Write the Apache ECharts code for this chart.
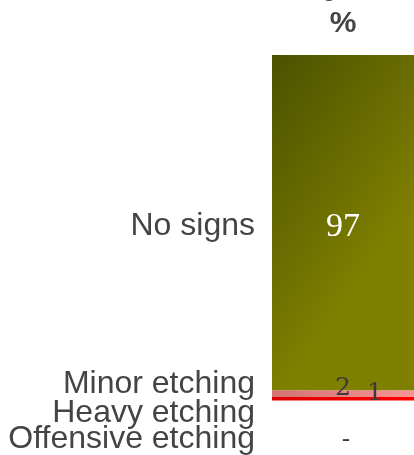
<!DOCTYPE html>
<html>
<head>
<meta charset="utf-8">
<script src="https://cdn.jsdelivr.net/npm/echarts@6/dist/echarts.min.js"></script>
<style>
  html, body { margin: 0; padding: 0; background: #ffffff; }
  #chart { width: 414px; height: 455px; }
</style>
</head>
<body>
<div id="chart"></div>
<script>
// Share of surveyed items by etching severity, one stacked column
const categories = ['No signs', 'Minor etching', 'Heavy etching', 'Offensive etching'];
const shares = [97, 2, 1, 0];
const valueLabels = ['97', '2', '1', '-'];
const columns = ['%'];
const headerWord = 'Signs';

const SANS = 'Liberation Sans, Arial, sans-serif';
const TEXT = '#444444';

function grad(x2, y2, stops) {
  return new echarts.graphic.LinearGradient(0, 0, x2, y2,
    stops.map((c, i) => ({ offset: i / (stops.length - 1), color: c })));
}
const fills = [
  grad(1.2, 0.36, ['#4a5200', '#808000']),
  grad(1, 0, ['#d27474', '#f89494']),
  grad(1, 0, ['#dc0000', '#ff0000']),
  grad(1, 0, ['#dc0000', '#ff0000'])
];
// the small segments are too thin for their names, so the names are spread apart
const nameShift = [4, -9, 14, 39];
// per-segment placement and type of the printed values
const valueOffsets = [[0, 5], [0, -5], [32, -5], [3, 40]];
const valueFonts = [
  { fontFamily: 'Liberation Serif, serif', fontSize: 34, color: '#ffffff' },
  { fontFamily: 'DejaVu Serif, serif', fontSize: 25, color: '#3a3a3a' },
  { fontFamily: 'DejaVu Serif, serif', fontSize: 25, color: '#3a3a3a' },
  { fontFamily: 'DejaVu Serif, serif', fontSize: 25, color: '#3a3a3a' }
];

const nameSeries = [];
const valueSeries = [];
// stack from the bottom: last category first
for (let i = categories.length - 1; i >= 0; i--) {
  nameSeries.push({
    type: 'bar',
    name: categories[i],
    stack: 'share',
    xAxisIndex: 0,
    barWidth: '100%',
    data: [shares[i]],
    itemStyle: { color: fills[i] },
    label: {
      show: true,
      position: 'left',
      distance: 17,
      formatter: categories[i],
      fontFamily: SANS,
      fontSize: 32,
      color: TEXT
    },
    labelLayout: { dy: nameShift[i] },
    silent: true
  });
  valueSeries.push({
    type: 'bar',
    name: categories[i] + ' value',
    stack: 'value',
    xAxisIndex: 1,
    barWidth: '100%',
    data: [shares[i]],
    itemStyle: { color: 'rgba(0,0,0,0)' },
    label: Object.assign({
      show: true,
      position: 'inside',
      offset: valueOffsets[i],
      formatter: valueLabels[i]
    }, valueFonts[i]),
    silent: true
  });
}

const chart = echarts.init(document.getElementById('chart'), null, { renderer: 'canvas' });
chart.setOption({
  animation: false,
  grid: { left: 272, right: 0, top: 55, bottom: 54.5 },
  xAxis: [
    {
      type: 'category',
      position: 'top',
      data: columns,
      axisLine: { show: false },
      axisTick: { show: false },
      axisLabel: {
        margin: 16,
        fontFamily: SANS,
        fontSize: 30,
        fontWeight: 'bold',
        color: TEXT
      }
    },
    { type: 'category', data: columns, show: false }
  ],
  yAxis: { type: 'value', min: 0, max: 100, show: false },
  graphic: [{
    type: 'text',
    left: 297,
    top: -24,
    style: {
      text: headerWord,
      fill: TEXT,
      font: 'bold 26px ' + SANS
    }
  }],
  series: nameSeries.concat(valueSeries)
});
</script>
</body>
</html>
